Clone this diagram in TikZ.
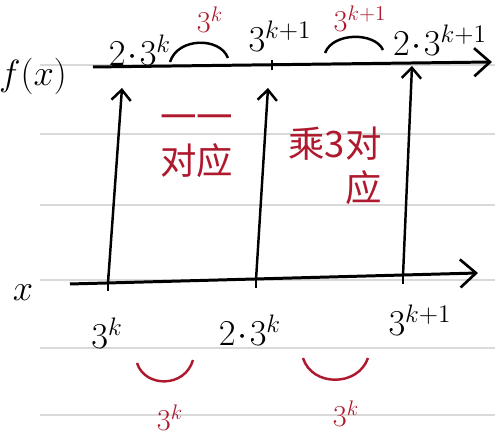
\documentclass[tikz,border=0pt]{standalone}
\usepackage{fontspec}
\newfontfamily\cjk{Noto Sans CJK SC}
\usetikzlibrary{arrows.meta}
\definecolor{inkred}{RGB}{175,25,45}

\begin{document}
\begin{tikzpicture}[
    x=0.02cm, y=0.02cm,
    axis/.style={line width=1.7pt, -{Straight Barb[length=9pt,width=16pt,line width=1.5pt]}},
    maparrow/.style={line width=1.4pt, -{Straight Barb[length=6pt,width=11pt]}},
    tickmark/.style={line width=1.4pt},
    ruled/.style={gray!30, line width=0.6pt},
    gaparc/.style={line width=1.4pt},
    lbl/.style={font=\huge, inner sep=1pt},
    gaplbl/.style={font=\LARGE, inner sep=1pt, text=inkred},
    note/.style={text=inkred, font=\cjk\huge, inner sep=1pt},
  ]
  \useasboundingbox (0,0) rectangle (495,438);
  % ruled paper
  \foreach \ry in {373,304,233,158,90,23}
    \draw[ruled] (40,\ry) -- (495,\ry);

  % axes
  \coordinate (fs) at (93,371);
  \coordinate (fe) at (492,376);
  \coordinate (xs) at (70,154);
  \coordinate (xe) at (478,165);
  \draw[axis] (fs) -- (fe);
  \draw[axis] (xs) -- (xe);
  \node[lbl] (flbl) at (33,362) {$f(x)$};
  \node[lbl] (xlbl) at (23,145) {$x$};

  % ticks
  \coordinate (f2) at (272,373);
  \coordinate (x1) at (108,155);
  \coordinate (x2) at (256,158);
  \coordinate (x3) at (403,162);
  \draw[tickmark] (f2) ++(0,5) -- ++(0,-10);
  \foreach \t in {x1,x2,x3}
    \draw[tickmark] (\t) ++(0,8) -- ++(0,-16);

  % mapping arrows
  \coordinate (t1) at (122,350);
  \coordinate (t2) at (268,350);
  \coordinate (t3) at (412,372);
  \draw[maparrow] (x1) -- (t1);
  \draw[maparrow] (x2) -- (t2);
  \draw[maparrow] (x3) -- (t3);

  % f(x) values
  \node[lbl] (fv1) at (140,388) {$2\!\cdot\!3^{k}$};
  \node[lbl] (fv2) at (280,402) {$3^{k+1}$};
  \node[lbl] (fv3) at (440,398) {$2\!\cdot\!3^{k+1}$};
  \coordinate (ua) at (170,376);
  \coordinate (ub) at (228,380);
  \coordinate (uc) at (325,385);
  \coordinate (ud) at (383,388);
  \draw[gaparc] (ua) .. controls (178,401) and (220,401) .. (ub);
  \draw[gaparc] (uc) .. controls (333,406) and (375,406) .. (ud);
  \node[gaplbl] (ug1) at (210,418) {$3^{k}$};
  \node[gaplbl] (ug2) at (360,419) {$3^{k+1}$};

  % x values
  \node[lbl] (xv1) at (107,105) {$3^{k}$};
  \node[lbl] (xv2) at (250,108) {$2\!\cdot\!3^{k}$};
  \node[lbl] (xv3) at (420,118) {$3^{k+1}$};
  \coordinate (la) at (137,75);
  \coordinate (lb) at (193,78);
  \coordinate (lc) at (303,80);
  \coordinate (ld) at (368,80);
  \draw[gaparc, inkred] (la) .. controls (145,50) and (185,50) .. (lb);
  \draw[gaparc, inkred] (lc) .. controls (312,51) and (358,51) .. (ld);
  \node[gaplbl] (lg1) at (170,20) {$3^{k}$};
  \node[gaplbl] (lg2) at (346,24) {$3^{k}$};

  % notes
  \node[note, align=center] (n1) at (197,292) {一一\\对应};
  \node[note, align=right] (n2) at (335,272) {乘3对\\应};
\end{tikzpicture}
\end{document}
